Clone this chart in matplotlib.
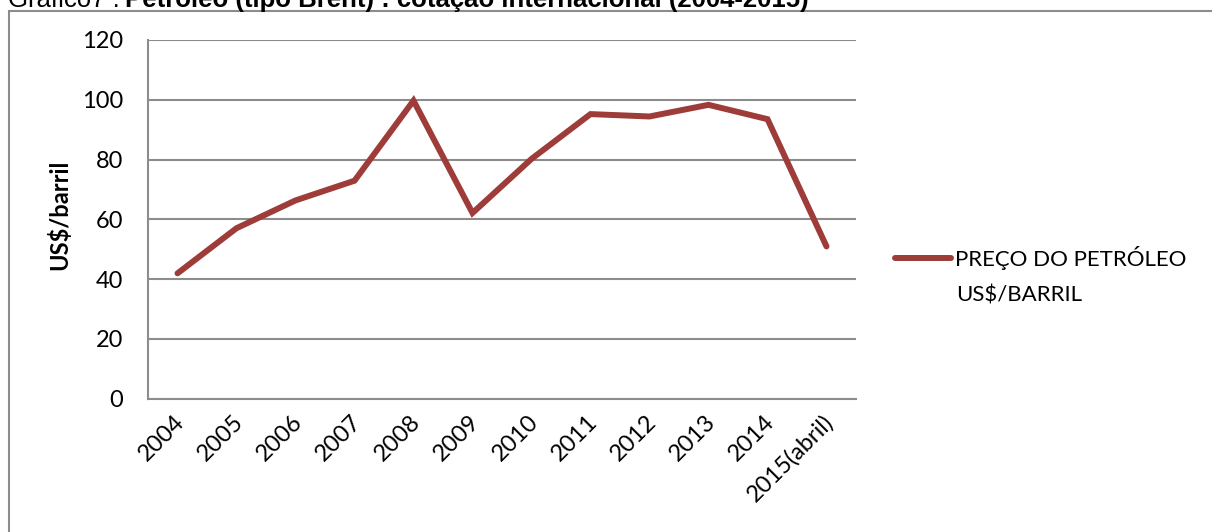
import matplotlib.pyplot as plt
import matplotlib.transforms as mtransforms
from matplotlib.patches import Rectangle

# Brent crude, yearly average price (US$/barrel)
anos = ["2004", "2005", "2006", "2007", "2008", "2009", "2010",
        "2011", "2012", "2013", "2014", "2015(abril)"]
preco = [41.9, 57.0, 66.3, 72.9, 99.7, 62.1, 80.2, 95.2, 94.4, 98.3, 93.5, 50.9]
yticks = [0, 20, 40, 60, 80, 100, 120]

W, H = 1212, 532
fig = plt.figure(figsize=(W / 100, H / 100), dpi=100)
plt.rcParams['font.family'] = ['Lato', 'DejaVu Sans']
GRAY = '#8c8c8c'

# outer chart frame (runs past the right/bottom edge)
fig.patches.append(Rectangle((9 / W, -0.1), 1.2, 1 - 11 / H + 0.1, transform=fig.transFigure,
                             fill=False, edgecolor=GRAY, linewidth=1.5, clip_on=False))

# caption sitting above the frame, partly cut by the page edge
fig.text(8 / W, 1 - 7 / H, "Gráfico7 :", family='Liberation Sans', fontsize=18.5,
         va='baseline', ha='left')
fig.text(125 / W, 1 - 7 / H, "Petróleo (tipo Brent) : cotação internacional (2004-2015)",
         family='Liberation Sans', fontsize=18.5, fontweight='bold', va='baseline', ha='left')

ax = fig.add_axes([148 / W, 1 - 398.5 / H, (856 - 148) / W, (398.5 - 40) / H])
x = range(len(anos))
linha, = ax.plot(x, preco, color='#9d3c39', linewidth=4.3, solid_capstyle='round',
                 solid_joinstyle='miter', zorder=3)

ax.set_xlim(-0.5, len(anos) - 0.5)
ax.set_ylim(0, 120)
ax.set_yticks(yticks)
ax.set_xticks(list(x))
ax.set_xticklabels(anos, rotation=45, ha='right', rotation_mode='anchor', fontsize=17)
ax.tick_params(axis='y', labelsize=17, length=0, pad=18)
ax.tick_params(axis='x', length=0, pad=9)
shift = mtransforms.ScaledTranslation(-0.04, 0, fig.dpi_scale_trans)
for lbl in ax.get_xticklabels():
    lbl.set_transform(lbl.get_transform() + shift)

ax.grid(axis='y', color=GRAY, linewidth=1.5)
ax.set_axisbelow(True)
for s in ['top', 'right']:
    ax.spines[s].set_visible(False)
for s in ['left', 'bottom']:
    ax.spines[s].set_color(GRAY)
    ax.spines[s].set_linewidth(1.5)

ax.set_ylabel("US$/barril", fontsize=17, fontweight='bold')
ax.yaxis.set_label_coords(-77 / (856 - 148), 0.512)

# legend: handle lines up with the first line of the label
ax.legend([linha], ["PREÇO DO PETRÓLEO"], loc='center left',
          bbox_to_anchor=(895 / W, 1 - 258 / H), bbox_transform=fig.transFigure,
          frameon=False, fontsize=16, handlelength=2.5, handletextpad=0.22,
          borderpad=0, borderaxespad=0)
fig.text(956 / W, 1 - 301 / H, "US$/BARRIL", fontsize=16, va='baseline', ha='left')

fig.savefig("out.png", dpi=100)
